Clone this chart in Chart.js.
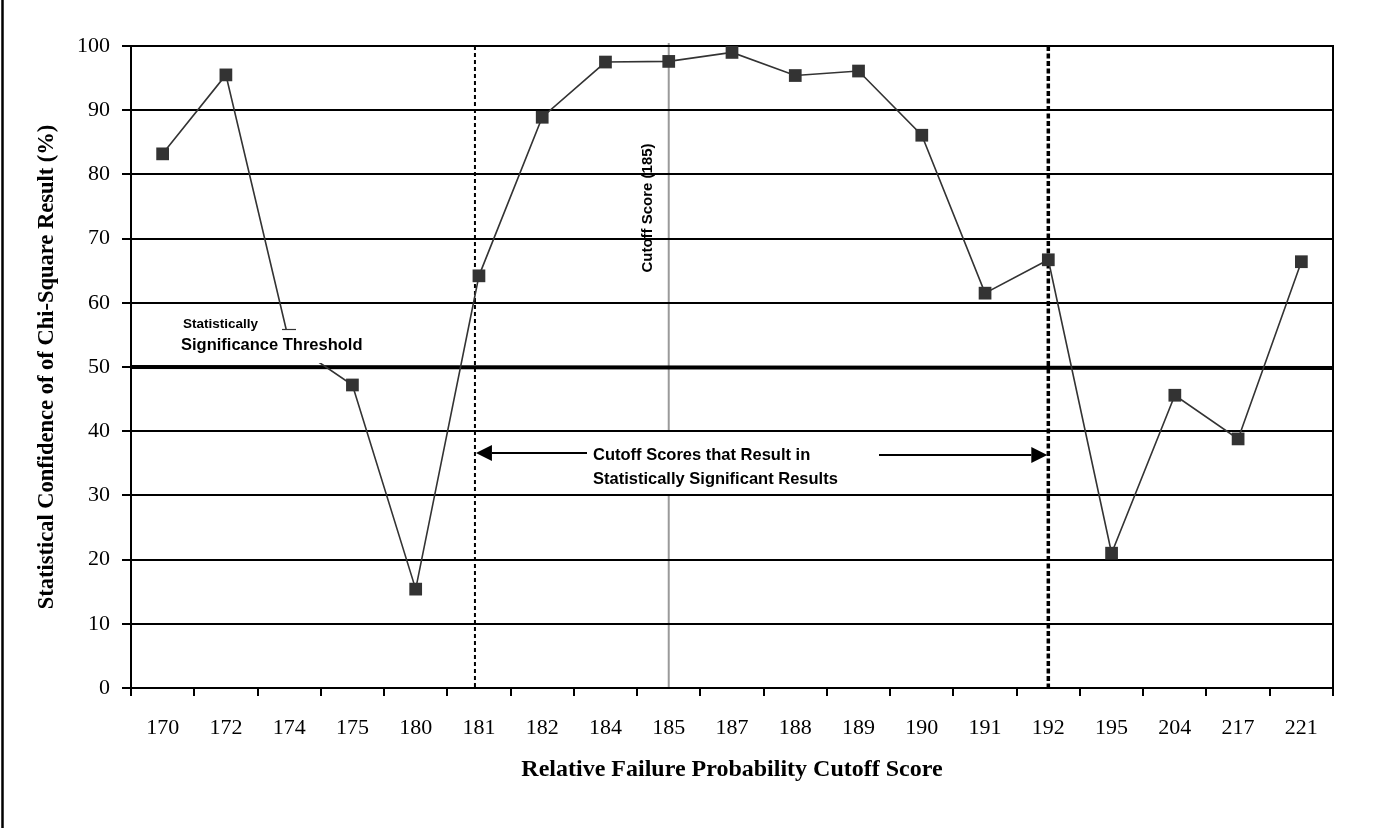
<!DOCTYPE html>
<html>
<head>
<meta charset="utf-8">
<script src="https://cdn.jsdelivr.net/npm/chart.js@4.4.1/dist/chart.umd.min.js"></script>
<style>
html,body{margin:0;padding:0;background:#fff;}
#wrap{width:1379px;height:828px;position:relative;}
</style>
</head>
<body>
<div id="wrap"><canvas id="c"></canvas></div>
<script>
// ---- data ----
const categories = ['170','172','174','175','180','181','182','184','185','187','188','189','190','191','192','195','204','217','221'];
const confidence = [83.2, 95.5, 53.9, 47.2, 15.4, 64.2, 88.9, 97.5, 97.6, 99.0, 95.4, 96.1, 86.1, 61.5, 66.7, 21.0, 45.6, 38.8, 66.4];
const yTickValues = [0, 10, 20, 30, 40, 50, 60, 70, 80, 90, 100];
const thresholdValue = 50;
const cutoffCategory = '185';
const rangeStartCategory = '181';
const rangeEndCategory = '192';

const serif = "'Liberation Serif','Times New Roman',serif";
const sans = "'Liberation Sans',Arial,sans-serif";

function arrow(ctx, x0, x1, yy) {
  // line from x0 to tip at x1
  const dir = Math.sign(x1 - x0);
  const headLen = 16, headHalf = 8;
  ctx.beginPath();
  ctx.moveTo(x0, yy);
  ctx.lineTo(x1 - dir * headLen, yy);
  ctx.stroke();
  ctx.beginPath();
  ctx.moveTo(x1, yy);
  ctx.lineTo(x1 - dir * headLen, yy - headHalf);
  ctx.lineTo(x1 - dir * headLen, yy + headHalf);
  ctx.closePath();
  ctx.fill();
}

const overlay = {
  id: 'overlay',
  beforeDraw(chart) {
    const {ctx, chartArea: a, scales: {x, y}} = chart;
    ctx.save();
    // outer left border
    ctx.strokeStyle = '#000';
    ctx.lineWidth = 2.5;
    ctx.beginPath(); ctx.moveTo(2.5, 0); ctx.lineTo(2.5, chart.height); ctx.stroke();
    // gray cutoff line
    const xc = x.getPixelForValue(categories.indexOf(cutoffCategory));
    ctx.strokeStyle = '#9a9a9a';
    ctx.lineWidth = 2;
    ctx.beginPath(); ctx.moveTo(xc, a.top - 3); ctx.lineTo(xc, a.bottom); ctx.stroke();
    // white text box behind the range label
    const yT = y.getPixelForValue(40), yB = y.getPixelForValue(30);
    ctx.fillStyle = '#fff';
    ctx.fillRect(590, yT, 286, yB - yT);
    ctx.restore();
  },
  beforeDatasetsDraw(chart) {
    const {ctx, chartArea: a, scales: {x, y}} = chart;
    ctx.save();
    // right plot border
    ctx.strokeStyle = '#000';
    ctx.lineWidth = 2;
    ctx.beginPath(); ctx.moveTo(a.right, a.top - 1); ctx.lineTo(a.right, a.bottom); ctx.stroke();
    // dotted range lines
    const xs = x.getPixelForValue(categories.indexOf(rangeStartCategory)) - 4;
    const xe = x.getPixelForValue(categories.indexOf(rangeEndCategory));
    ctx.setLineDash([4, 3]);
    ctx.lineWidth = 2;
    ctx.beginPath(); ctx.moveTo(xs, a.top); ctx.lineTo(xs, a.bottom); ctx.stroke();
    ctx.setLineDash([5, 2.5]);
    ctx.lineWidth = 3.5;
    ctx.beginPath(); ctx.moveTo(xe, a.top); ctx.lineTo(xe, a.bottom); ctx.stroke();
    ctx.setLineDash([]);
    // threshold line
    const yt = y.getPixelForValue(thresholdValue);
    ctx.lineWidth = 4;
    ctx.beginPath(); ctx.moveTo(a.left, yt); ctx.lineTo(a.right, yt + 1); ctx.stroke();
    ctx.restore();
  },
  afterDatasetsDraw(chart) {
    const {ctx, scales: {x, y}} = chart;
    ctx.save();
    // threshold label box
    ctx.fillStyle = '#fff';
    ctx.fillRect(176, 330, 192, 33);
    ctx.strokeStyle = '#333';
    ctx.lineWidth = 1.2;
    ctx.beginPath(); ctx.moveTo(282, 329.5); ctx.lineTo(296, 329.5); ctx.stroke();
    ctx.fillStyle = '#000';
    ctx.textBaseline = 'middle';
    ctx.textAlign = 'left';
    ctx.font = 'bold 13.5px ' + sans;
    ctx.fillText('Statistically', 183, 324);
    ctx.font = 'bold 16.5px ' + sans;
    ctx.fillText('Significance Threshold', 181, 345);
    // range label
    ctx.font = 'bold 16.5px ' + sans;
    ctx.fillText('Cutoff Scores that Result in', 593, 455);
    ctx.fillText('Statistically Significant Results', 593, 479);
    // arrows
    const xs = x.getPixelForValue(categories.indexOf(rangeStartCategory)) - 3;
    const xe = x.getPixelForValue(categories.indexOf(rangeEndCategory)) - 1;
    ctx.strokeStyle = '#000';
    ctx.fillStyle = '#000';
    ctx.lineWidth = 2;
    arrow(ctx, 587, xs, 453);
    arrow(ctx, 879, xe, 455);
    // rotated cutoff label
    ctx.save();
    ctx.translate(648, 208);
    ctx.rotate(-Math.PI / 2);
    ctx.textAlign = 'center';
    ctx.font = 'bold 15px ' + sans;
    ctx.fillText('Cutoff Score (185)', 0, 0);
    ctx.restore();
    ctx.restore();
  }
};

new Chart(document.getElementById('c'), {
  type: 'line',
  data: {
    labels: categories,
    datasets: [{
      label: 'Statistical Confidence',
      data: confidence,
      borderColor: '#333333',
      borderWidth: 1.6,
      pointStyle: 'rect',
      pointRadius: 9,
      pointHoverRadius: 9,
      pointBackgroundColor: '#333333',
      pointBorderColor: '#333333',
      pointBorderWidth: 0,
      tension: 0,
      clip: false
    }]
  },
  options: {
    responsive: true,
    maintainAspectRatio: false,
    animation: false,
    events: [],
    layout: { padding: { left: 0, top: 46, right: 46, bottom: 0 } },
    plugins: { legend: { display: false }, tooltip: { enabled: false } },
    scales: {
      x: {
        type: 'category',
        offset: true,
        afterFit(s) { s.height = 140; },
        grid: { offset: true, drawOnChartArea: false, drawTicks: true, tickLength: 8, color: '#000', lineWidth: 2 },
        border: { display: true, color: '#000', width: 2 },
        ticks: { color: '#000', font: { family: serif, size: 22 }, padding: 19, maxRotation: 0, autoSkip: false },
        title: { display: true, text: 'Relative Failure Probability Cutoff Score', color: '#000',
                 font: { family: serif, size: 24, weight: 'bold' }, padding: { top: 0, bottom: 44 } }
      },
      y: {
        min: 0, max: 100,
        afterFit(s) { s.width = 131; },
        afterBuildTicks(s) { s.ticks = yTickValues.map(v => ({ value: v })); },
        grid: { color: '#000', lineWidth: 2, tickLength: 9, drawTicks: true },
        border: { display: true, color: '#000', width: 2 },
        ticks: { color: '#000', font: { family: serif, size: 22 }, padding: 12 },
        title: { display: true, text: 'Statistical Confidence of of Chi-Square Result (%)', color: '#000',
                 font: { family: serif, size: 22.5, weight: 'bold' }, padding: { top: 34, bottom: 0 } }
      }
    }
  },
  plugins: [overlay]
});
</script>
</body>
</html>
